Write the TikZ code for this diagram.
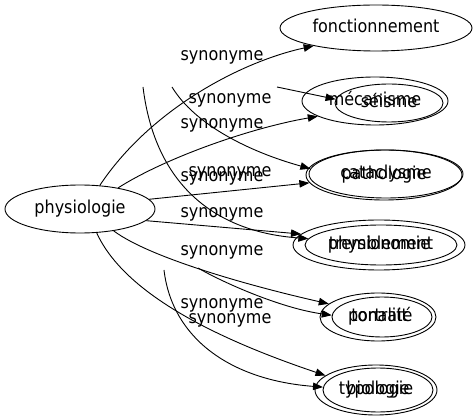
\documentclass[tikz,border=0pt]{standalone}
\usepackage{fontspec}
\setmainfont{DejaVu Sans}[FakeStretch=0.9]
\usetikzlibrary{arrows.meta,shapes.geometric}

\begin{document}
\begin{tikzpicture}[x=1pt,y=-1pt,
    mot/.style={draw, ellipse, inner sep=0pt, line width=0.9pt, text height=12pt, text depth=3.5pt, font=\fontsize{17.8}{20}\selectfont},
    syn/.style={inner sep=0pt, font=\fontsize{17.8}{20}\selectfont},
    lien/.style={line width=0.9pt, -{Triangle[length=10pt,width=7.5pt]}}]
    \useasboundingbox (0,0) rectangle (476,419);
    \node[mot, minimum width=150pt, minimum height=48pt] (physiologie) at (80,209) {physiologie};
    \node[mot, minimum width=192pt, minimum height=46pt] (fonctionnement) at (376,28) {fonctionnement};
    \node[mot, minimum width=146pt, minimum height=48pt] (mecanisme) at (375,101) {mécanisme};
    \node[mot, minimum width=108pt, minimum height=38pt] (seisme) at (389,103) {séisme};
    \node[mot, minimum width=156pt, minimum height=50pt] (pathologie) at (384,175) {pathologie};
    \node[mot, minimum width=154pt, minimum height=48pt] (cataclysme) at (386,174) {cataclysme};
    \node[mot, minimum width=172pt, minimum height=50pt] (physionomie) at (379,245) {physionomie};
    \node[mot, minimum width=152pt, minimum height=40pt] (tremblement) at (381,245) {tremblement};
    \node[mot, minimum width=116pt, minimum height=48pt] (portrait) at (378,317) {portrait};
    \node[mot, minimum width=100pt, minimum height=40pt] (tonalite) at (382,317) {tonalité};
    \node[mot, minimum width=122pt, minimum height=50pt] (typologie) at (376,390) {typologie};
    \node[mot, minimum width=110pt, minimum height=44pt] (biologie) at (378,390) {biologie};
    \coordinate (s1) at (277,87);
    \coordinate (s2) at (172,87);
    \coordinate (s3) at (143,87);
    \coordinate (s4) at (198,268);
    \coordinate (s5) at (164,270);
    \draw[lien] (physiologie.50) .. controls (150,110) and (240,62) .. (fonctionnement.196);
    \draw[lien] (s1) -- (seisme.176);
    \draw[lien] (physiologie.29) .. controls (165,158) and (250,128) .. (mecanisme.195);
    \draw[lien] (s2) .. controls (195,125) and (250,152) .. (cataclysme.176);
    \draw[lien] (physiologie.8) -- (pathologie.186);
    \draw[lien] (s3) .. controls (155,185) and (215,232) .. (tremblement.175);
    \draw[lien] (physiologie.-10) -- (physionomie.172);
    \draw[lien] (physiologie.-33) .. controls (150,258) and (250,286) .. (portrait.165);
    \draw[lien] (s4) .. controls (222,282) and (280,308) .. (tonalite.178);
    \draw[lien] (physiologie.-55) .. controls (125,295) and (220,340) .. (typologie.164);
    \draw[lien] (s5) .. controls (172,338) and (230,380) .. (biologie.177);
    \node[syn] (lfonc) at (222,57) {synonyme};
    \node[syn] (lseis) at (230,100) {synonyme};
    \node[syn] (lmeca) at (222,125) {synonyme};
    \node[syn] (lcata) at (230,173) {synonyme};
    \node[syn] (lpath) at (222,178) {synonyme};
    \node[syn] (lphys) at (222,214) {synonyme};
    \node[syn] (lport) at (222,252) {synonyme};
    \node[syn] (ltypo) at (222,305) {synonyme};
    \node[syn] (lbiol) at (230,320) {synonyme};
\end{tikzpicture}
\end{document}
